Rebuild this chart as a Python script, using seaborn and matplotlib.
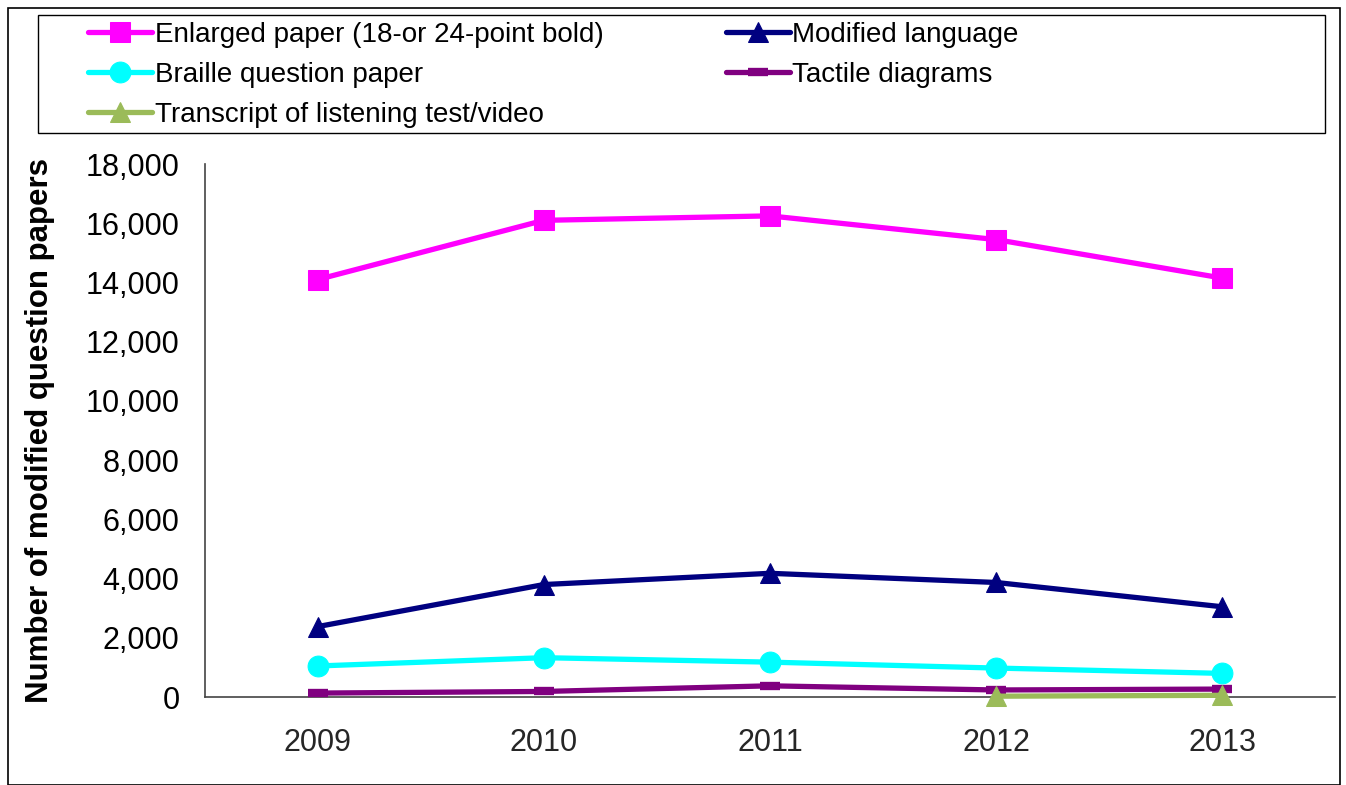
import matplotlib
matplotlib.use("Agg")
import matplotlib.pyplot as plt
import seaborn as sns
import pandas as pd
from matplotlib.patches import Rectangle
from matplotlib.ticker import FuncFormatter, FixedLocator

years = ["2009", "2010", "2011", "2012", "2013"]
enlarged = [14100, 16100, 16250, 15450, 14150]
modified = [2380, 3800, 4180, 3870, 3050]
braille = [1050, 1330, 1180, 980, 800]
tactile = [135, 190, 380, 240, 270]
transcript = [None, None, None, 30, 60]

sns.set_style("white")
plt.rcParams['font.family'] = ['Liberation Sans', 'DejaVu Sans']
plt.rcParams['text.color'] = 'black'
plt.rcParams['axes.labelcolor'] = 'black'

fig = plt.figure(figsize=(13.46, 7.85), dpi=100)
ax = fig.add_axes([0.152, 0.112, 0.84, 0.679])

# name, values, colour, marker, marker size, z-order
series = [
    ("Enlarged paper (18-or 24-point bold)", enlarged, "#ff00ff", "s", 14, 2),
    ("Braille question paper", braille, "#00ffff", "o", 15, 2),
    ("Transcript of listening test/video", transcript, "#9bbb59", "^", 15, 4),
    ("Modified language", modified, "#000080", "^", 15, 2),
    ("Tactile diagrams", tactile, "#800080", "_", 14, 3),
]

for name, vals, col, mk, ms, z in series:
    df = pd.DataFrame({"x": range(len(years)), "y": vals}).dropna()
    kw = dict(markeredgewidth=6) if mk == "_" else {}
    sns.lineplot(data=df, x="x", y="y", ax=ax, color=col, linewidth=3.8,
                 marker=mk, markersize=ms, markeredgecolor=col, label=name,
                 clip_on=False, zorder=z, **kw)

ax.set_xlim(-0.5, 4.5)
ax.set_ylim(0, 18000)
ax.set_yticks(range(0, 18001, 2000))
ax.yaxis.set_major_formatter(FuncFormatter(lambda v, p: f"{int(v):,}"))
ax.xaxis.set_major_locator(FixedLocator([i - 0.5 for i in range(6)]))
ax.xaxis.set_minor_locator(FixedLocator(range(5)))
ax.set_xticklabels([])
ax.set_xticklabels(years, minor=True)
ax.tick_params(axis="x", which="major", direction="out", length=10, width=1.2, color="#444444")
ax.tick_params(axis="x", which="minor", length=0, labelsize=22, pad=22)
ax.tick_params(axis="y", direction="out", length=10, width=1.2, color="#444444", labelsize=22, pad=8)
ax.tick_params(axis="both", labelcolor="black")
ax.set_xlabel("")
ax.set_ylabel("Number of modified question papers", fontsize=22.5, fontweight="bold", labelpad=22)
for s in ["top", "right"]:
    ax.spines[s].set_visible(False)
for s in ["left", "bottom"]:
    ax.spines[s].set_color("#444444")
    ax.spines[s].set_linewidth(1.2)

leg = ax.legend(loc="upper left", bbox_to_anchor=(88 / 1346, 1 - 22 / 785),
                bbox_transform=fig.transFigure, ncol=2, fontsize=20,
                frameon=False, borderpad=0, labelspacing=0.5, handlelength=2.3,
                handletextpad=0.1, columnspacing=4.4, borderaxespad=0)

# legend frame
fig.patches.append(Rectangle((38 / 1346, 1 - 133 / 785), 1287 / 1346, 118 / 785, transform=fig.transFigure,
                             fill=False, edgecolor="black", linewidth=1.0))
# outer border
fig.patches.append(Rectangle((8 / 1346, 0.0), 1332 / 1346, 1 - 8 / 785, transform=fig.transFigure,
                             fill=False, edgecolor="black", linewidth=1.2))

fig.savefig("out.png", dpi=100)
